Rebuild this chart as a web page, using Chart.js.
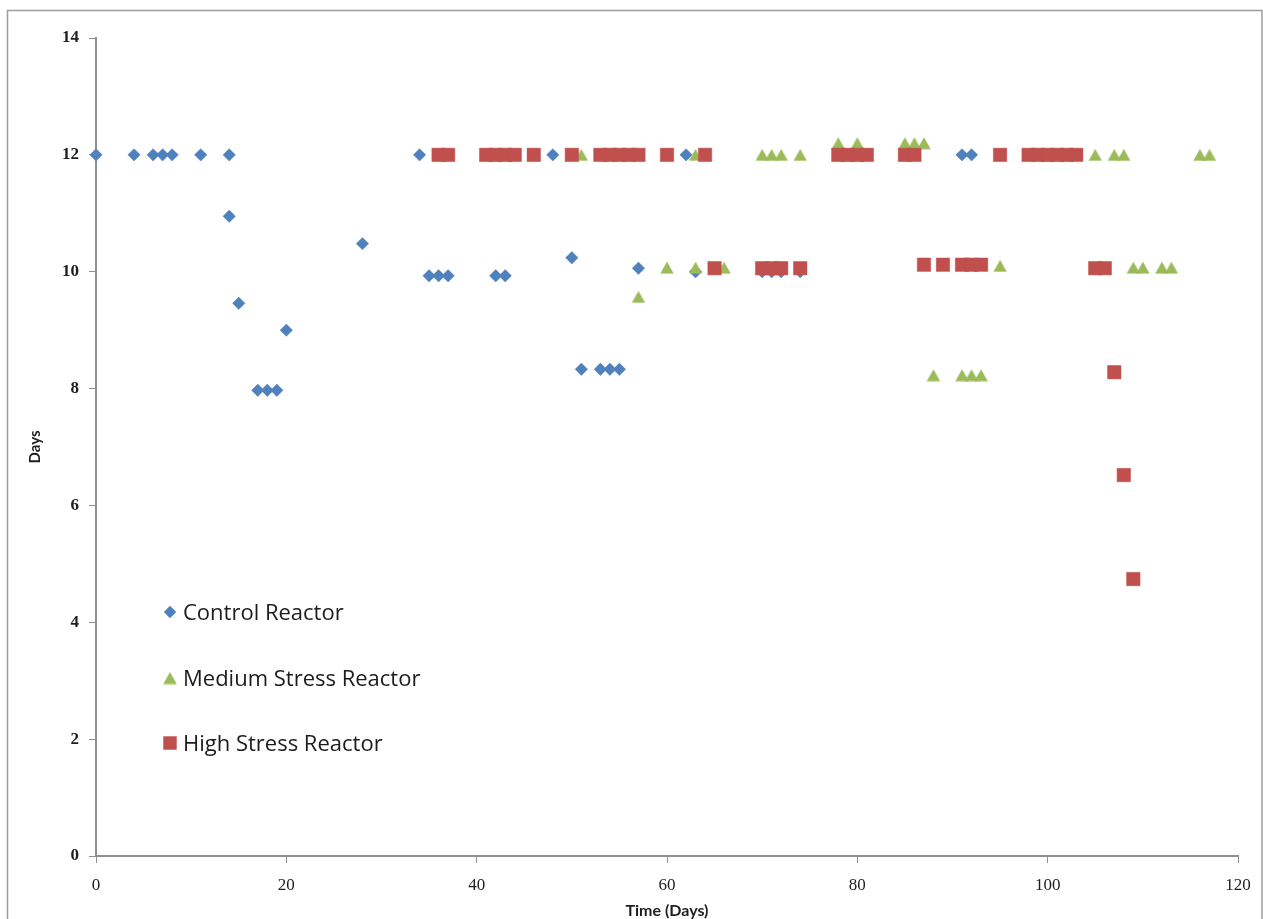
<!DOCTYPE html>
<html>
<head>
<meta charset="utf-8">
<title>Reactor retention time</title>
<script src="https://cdn.jsdelivr.net/npm/chart.js@4.4.1/dist/chart.umd.min.js"></script>
<style>
  html, body { margin: 0; padding: 0; background: #ffffff; }
  canvas { display: block; }
</style>
</head>
<body>
<canvas id="chart" width="1263" height="919"></canvas>
<script>
// ---- data ---------------------------------------------------------------
const seriesNames = ['Control Reactor', 'Medium Stress Reactor', 'High Stress Reactor'];

const controlDays   = [0, 4, 6, 7, 8, 11, 14, 14, 15, 17, 18, 19, 20, 28, 34, 35, 36, 37, 42, 43,
                       48, 50, 51, 53, 54, 55, 57, 62, 63, 70, 71, 72, 74, 91, 92];
const controlValues = [12, 12, 12, 12, 12, 12, 12, 10.95, 9.46, 7.97, 7.97, 7.97, 9.0, 10.48, 12, 9.93, 9.93, 9.93, 9.93, 9.93,
                       12, 10.24, 8.33, 8.33, 8.33, 8.33, 10.06, 12, 10.0, 10.0, 10.0, 10.0, 10.0, 12, 12];

const mediumDays   = [51, 57, 60, 63, 63, 66, 70, 71, 72, 74, 78, 80, 85, 86, 87, 88, 91, 92, 93, 95,
                      105, 107, 108, 109, 110, 112, 113, 116, 117];
const mediumValues = [12, 9.57, 10.07, 12, 10.07, 10.07, 12, 12, 12, 12, 12.2, 12.2, 12.2, 12.2, 12.2, 8.23, 8.23, 8.23, 8.23, 10.1,
                      12, 12, 12, 10.07, 10.07, 10.07, 10.07, 12, 12];

const highDays   = [36, 37, 41, 42, 43, 44, 46, 50, 53, 54, 55, 56, 57, 60, 64, 65, 70, 71, 72, 74,
                    78, 79, 80, 81, 85, 86, 87, 89, 91, 92, 93, 95, 98, 99, 100, 101, 102, 103,
                    105, 106, 107, 108, 109];
const highValues = [12, 12, 12, 12, 12, 12, 12, 12, 12, 12, 12, 12, 12, 12, 12, 10.06, 10.06, 10.06, 10.06, 10.06,
                    12, 12, 12, 12, 12, 12, 10.12, 10.12, 10.12, 10.12, 10.12, 12, 12, 12, 12, 12, 12, 12,
                    10.06, 10.06, 8.28, 6.52, 4.74];

const xTickValues = [0, 20, 40, 60, 80, 100, 120];
const yTickValues = [0, 2, 4, 6, 8, 10, 12, 14];

// ---- helpers ------------------------------------------------------------
const toPoints = (xs, ys) => xs.map((x, i) => ({ x: x, y: ys[i] }));

// Triangle marker centred on its bounding box
function triangleMarker(color) {
  const c = document.createElement('canvas');
  c.width = 14; c.height = 13;
  const g = c.getContext('2d');
  g.fillStyle = color;
  g.beginPath();
  g.moveTo(0.3, 12.6);
  g.lineTo(7, 0.4);
  g.lineTo(13.7, 12.6);
  g.closePath();
  g.fill();
  return c;
}

const BLUE = '#4F81BD', GREEN = '#9BBB59', RED = '#C0504D';
const AXIS = '#8f8f8f';

// Legend drawn inside the plot, lower left
const legendSpot = { markerX: 170, textX: 183, rows: [612, 678, 743] };
const insideLegend = {
  id: 'insideLegend',
  afterDatasetsDraw(chart) {
    const ctx = chart.ctx;
    ctx.save();
    chart.data.datasets.forEach((ds, i) => {
      const y = legendSpot.rows[i];
      ctx.fillStyle = ds.backgroundColor;
      ctx.strokeStyle = ds.borderColor;
      Chart.helpers.drawPoint(ctx, {
        pointStyle: ds.pointStyle, radius: ds.pointRadius, rotation: 0, borderWidth: 0
      }, legendSpot.markerX, y);
      ctx.fillStyle = '#1c1c1c';
      ctx.font = '22px "Open Sans", Lato, sans-serif';
      ctx.textBaseline = 'middle';
      ctx.textAlign = 'left';
      ctx.fillText(ds.label, legendSpot.textX, y + 2);
    });
    ctx.restore();
  }
};

// White page with a thin frame round the chart
const frame = {
  id: 'frame',
  beforeDraw(chart) {
    const ctx = chart.ctx;
    ctx.save();
    ctx.fillStyle = '#ffffff';
    ctx.fillRect(0, 0, chart.width, chart.height);
    ctx.strokeStyle = '#9c9c9c';
    ctx.lineWidth = 1.5;
    ctx.strokeRect(7.5, 10.5, 1254.5, 940);
    ctx.restore();
  }
};

new Chart(document.getElementById('chart'), {
  type: 'scatter',
  data: {
    datasets: [
      {
        label: seriesNames[0],
        data: toPoints(controlDays, controlValues),
        pointStyle: 'rectRot', pointRadius: 6.2,
        backgroundColor: BLUE, borderColor: BLUE, borderWidth: 0.5,
        clip: false,
        order: 3
      },
      {
        label: seriesNames[1],
        data: toPoints(mediumDays, mediumValues),
        pointStyle: triangleMarker(GREEN), pointRadius: 7,
        backgroundColor: GREEN, borderColor: GREEN, borderWidth: 0,
        clip: false,
        order: 2
      },
      {
        label: seriesNames[2],
        data: toPoints(highDays, highValues),
        pointStyle: 'rect', pointRadius: 9.5,
        backgroundColor: RED, borderColor: RED, borderWidth: 0.5,
        clip: false,
        order: 1
      }
    ]
  },
  options: {
    responsive: false,
    animation: false,
    events: [],
    layout: { padding: { left: 0, top: 38, right: 25, bottom: 0 } },
    plugins: {
      legend: { display: false },
      tooltip: { enabled: false },
      title: { display: false }
    },
    scales: {
      x: {
        type: 'linear',
        min: 0, max: 120,
        afterBuildTicks: s => { s.ticks = xTickValues.map(v => ({ value: v })); },
        afterFit: s => { s.height = 63; },
        grid: { display: true, drawOnChartArea: false, drawTicks: true, tickLength: 7, color: AXIS, lineWidth: 1 },
        border: { display: true, color: AXIS, width: 2 },
        ticks: {
          padding: 12,
          color: '#1e1e1e',
          font: { family: '"Liberation Serif", "DejaVu Serif", serif', size: 17 }
        },
        title: {
          display: true,
          text: 'Time (Days)',
          color: '#1e1e1e',
          font: { family: 'Lato, "Open Sans", sans-serif', size: 16, weight: 'bold', lineHeight: 1 },
          padding: { top: 0, bottom: 0 }
        }
      },
      y: {
        type: 'linear',
        min: 0, max: 14,
        afterBuildTicks: s => { s.ticks = yTickValues.map(v => ({ value: v })); },
        afterFit: s => { s.width = 96; },
        grid: { display: true, drawOnChartArea: false, drawTicks: true, tickLength: 7, color: AXIS, lineWidth: 1 },
        border: { display: true, color: AXIS, width: 2 },
        ticks: {
          padding: 10,
          color: '#1e1e1e',
          font: { family: '"Liberation Serif", "DejaVu Serif", serif', size: 17, weight: 'bold' }
        },
        title: {
          display: true,
          text: 'Days',
          color: '#1e1e1e',
          font: { family: 'Lato, "Open Sans", sans-serif', size: 15, weight: 'bold', lineHeight: 1 },
          padding: { top: 28, bottom: 0 }
        }
      }
    }
  },
  plugins: [frame, insideLegend]
});
</script>
</body>
</html>
